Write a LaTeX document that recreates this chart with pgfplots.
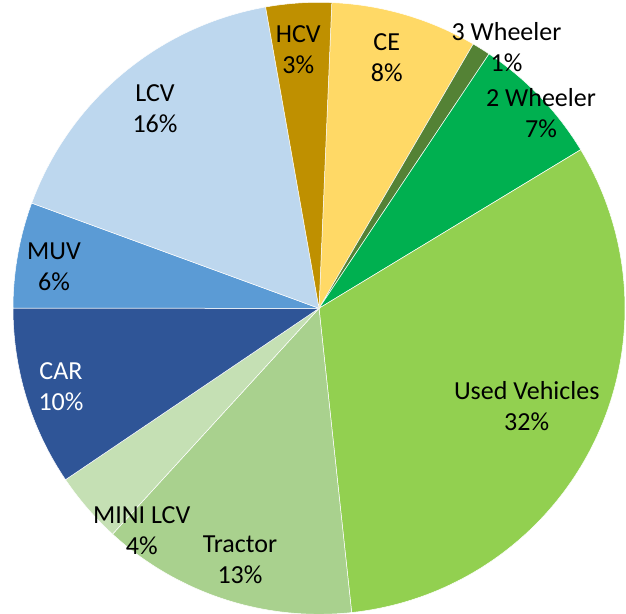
\documentclass[border=0pt]{standalone}
\usepackage{pgfplots}
\usepackage{pgfplotstable}
\pgfplotsset{compat=1.18}
\usepackage{fontspec}
\setmainfont{Carlito}

\definecolor{slice0}{HTML}{FFD966}% CE
\definecolor{slice1}{HTML}{548235}% 3 Wheeler
\definecolor{slice2}{HTML}{00B050}% 2 Wheeler
\definecolor{slice3}{HTML}{92D050}% Used Vehicles
\definecolor{slice4}{HTML}{A9D18E}% Tractor
\definecolor{slice5}{HTML}{C5E0B4}% MINI LCV
\definecolor{slice6}{HTML}{2F5597}% CAR
\definecolor{slice7}{HTML}{5B9BD5}% MUV
\definecolor{slice8}{HTML}{BDD7EE}% LCV
\definecolor{slice9}{HTML}{BF9000}% HCV

% share of each segment (percent), clockwise from the top
\pgfplotstableread{
name value
CE 7.74
{3 Wheeler} 0.97
{2 Wheeler} 6.95
{Used Vehicles} 31.97
Tractor 13.49
{MINI LCV} 3.75
CAR 9.47
MUV 5.58
LCV 16.62
HCV 3.46
}\slices

\begin{document}
\begin{tikzpicture}
\begin{axis}[
  hide axis, scale only axis,
  width=626pt, height=613pt,
  xmin=-319, xmax=307, ymin=-304.7, ymax=308.3,
  clip=true,
]
\pgfmathsetmacro\cur{87.6}
\pgfplotsforeachungrouped \i in {0,...,9}{
  \pgfplotstablegetelem{\i}{value}\of\slices
  \let\v\pgfplotsretval
  \pgfmathsetmacro\endang{\cur-3.6*\v}
  \edef\temp{\noexpand\addplot[fill=slice\i, draw=white, line width=0.5pt,
    domain=\endang:\cur, samples=90, variable=\noexpand\t]
    ({306*cos(\noexpand\t)},{306*sin(\noexpand\t)}) -- (axis cs:0,0) -- cycle;}
  \temp
  \global\let\cur\endang
}
\tikzset{lbl/.style={align=center, font=\fontsize{26}{31}\selectfont, inner sep=0pt}}
\node[lbl] at (axis cs:67.7,251.1) {CE\\8\%};
\node[lbl] at (axis cs:187.5,261.6) {3 Wheeler\\1\%};
\node[lbl] at (axis cs:222,195.5) {2 Wheeler\\7\%};
\node[lbl] at (axis cs:207.7,-97.9) {Used Vehicles\\32\%};
\node[lbl] at (axis cs:-79,-251.2) {Tractor\\13\%};
\node[lbl] at (axis cs:-177.3,-222.2) {MINI LCV\\4\%};
\node[lbl, text=white] at (axis cs:-258,-78.4) {CAR\\10\%};
\node[lbl] at (axis cs:-265,41.8) {MUV\\6\%};
\node[lbl] at (axis cs:-164,200) {LCV\\16\%};
\node[lbl] at (axis cs:-20.7,259.1) {HCV\\3\%};
\end{axis}
\pgfresetboundingbox
\path (current axis.south west) rectangle (current axis.north east);
\end{tikzpicture}
\end{document}
